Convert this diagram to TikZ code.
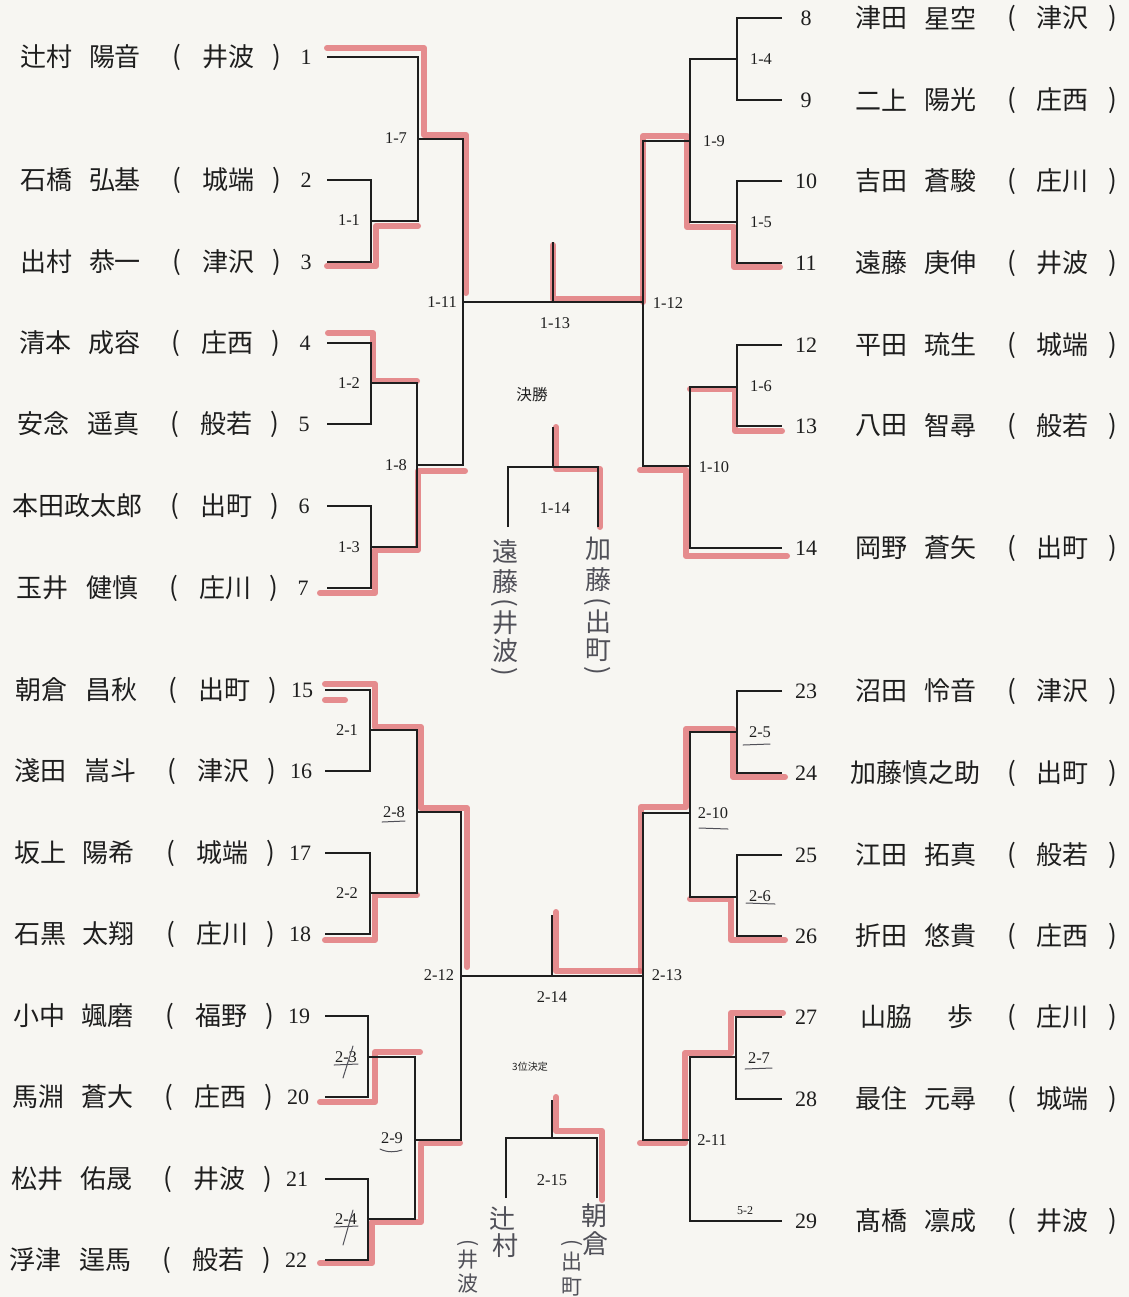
\documentclass[tikz,border=0pt]{standalone}
\usepackage{fontspec}
\setmainfont{Liberation Serif}
\newfontfamily\jp{Noto Sans CJK JP}
\definecolor{paper}{RGB}{247,246,242}
\definecolor{ink}{RGB}{30,30,30}
\definecolor{hlred}{RGB}{222,95,100}
\definecolor{pencil}{RGB}{80,80,88}
\tikzset{
  br/.style={line width=1pt, draw=ink},
  hl/.style={line width=3pt, draw=hlred, opacity=0.7, line join=round, line cap=round},
  nm/.style={font=\jp\fontsize{13}{13}\selectfont, inner sep=0pt, text=ink},
  num/.style={font=\fontsize{11}{11}\selectfont, inner sep=0pt, text=ink},
  lbl/.style={font=\fontsize{8.2}{8.2}\selectfont, inner sep=0pt, text=ink},
  hw/.style={font=\jp\fontsize{13}{13}\selectfont, inner sep=0pt, text=pencil},
  hws/.style={font=\jp\fontsize{10.5}{10.5}\selectfont, inner sep=0pt, text=pencil},
  vp/.style={rotate=-90, inner sep=0pt, text=pencil},
  pm/.style={line width=0.5pt, draw=pencil, line cap=round},
}
% left row: id, y, dx, surname, given, school
\newcommand\Lrow[6]{%
  \node[nm] (ls#1) at ({46+(#3)},#2) {#4};
  \node[nm] (lg#1) at ({115+(#3)},#2) {#5};
  \node[nm] (lo#1) at ({177+(#3)},#2) {(};
  \node[nm] (lc#1) at ({228+(#3)},#2) {#6};
  \node[nm] (lx#1) at ({277+(#3)},#2) {)};
  \node[num] (n#1) at ({306+(#3)},#2) {#1};
}
% right row: id, y, surname, given, school
\newcommand\Rrow[5]{%
  \node[num] (n#1) at (806,#2) {#1};
  \node[nm] (rs#1) at (881,#2) {#3};
  \node[nm] (rg#1) at (950,#2) {#4};
  \node[nm] (ro#1) at (1012,#2) {(};
  \node[nm] (rc#1) at (1062,#2) {#5};
  \node[nm] (rx#1) at (1113,#2) {)};
}
\begin{document}
\begin{tikzpicture}[x=0.5pt,y=-0.5pt]
\fill[paper] (0,0) rectangle (1129,1297);
\useasboundingbox (0,0) rectangle (1129,1297);
\clip (0,0) rectangle (1129,1297);

% ---------- names ----------
\Lrow{1}{57}{0}{辻村}{陽音}{井波}
\Lrow{2}{180}{0}{石橋}{弘基}{城端}
\Lrow{3}{262}{0}{出村}{恭一}{津沢}
\Lrow{4}{343}{-1}{清本}{成容}{庄西}
\Lrow{5}{424}{-2}{安念}{遥真}{般若}
\node[nm] (ls6) at (77,506) {本田政太郎};
\node[nm] (lo6) at (175,506) {(};
\node[nm] (lc6) at (226,506) {出町};
\node[nm] (lx6) at (275,506) {)};
\node[num] (n6) at (304,506) {6};
\Lrow{7}{588}{-3}{玉井}{健慎}{庄川}
\Lrow{15}{690}{-4}{朝倉}{昌秋}{出町}
\Lrow{16}{771}{-5}{淺田}{嵩斗}{津沢}
\Lrow{17}{853}{-6}{坂上}{陽希}{城端}
\Lrow{18}{934}{-6}{石黒}{太翔}{庄川}
\Lrow{19}{1016}{-7}{小中}{颯磨}{福野}
\Lrow{20}{1097}{-8}{馬淵}{蒼大}{庄西}
\Lrow{21}{1179}{-9}{松井}{佑晟}{井波}
\Lrow{22}{1260}{-10}{浮津}{逞馬}{般若}

\Rrow{8}{18}{津田}{星空}{津沢}
\Rrow{9}{100}{二上}{陽光}{庄西}
\Rrow{10}{181}{吉田}{蒼駿}{庄川}
\Rrow{11}{263}{遠藤}{庚伸}{井波}
\Rrow{12}{345}{平田}{琉生}{城端}
\Rrow{13}{426}{八田}{智尋}{般若}
\Rrow{14}{548}{岡野}{蒼矢}{出町}
\Rrow{23}{691}{沼田}{怜音}{津沢}
\node[num] (n24) at (806,773) {24};
\node[nm] (rs24) at (915,773) {加藤慎之助};
\node[nm] (ro24) at (1012,773) {(};
\node[nm] (rc24) at (1062,773) {出町};
\node[nm] (rx24) at (1113,773) {)};
\Rrow{25}{855}{江田}{拓真}{般若}
\Rrow{26}{936}{折田}{悠貴}{庄西}
\node[num] (n27) at (806,1017) {27};
\node[nm] (rs27) at (886,1017) {山脇};
\node[nm] (rg27) at (960,1017) {歩};
\node[nm] (ro27) at (1012,1017) {(};
\node[nm] (rc27) at (1062,1017) {庄川};
\node[nm] (rx27) at (1113,1017) {)};
\Rrow{28}{1099}{最住}{元尋}{城端}
\Rrow{29}{1221}{髙橋}{凛成}{井波}

% ---------- coordinates ----------
\coordinate (p1) at (327,57);   \coordinate (p2) at (327,180);
\coordinate (p3) at (327,262);  \coordinate (p4) at (327,343);
\coordinate (p5) at (327,424);  \coordinate (p6) at (327,506);
\coordinate (p7) at (327,588);
\coordinate (j11) at (371,221); \coordinate (j17) at (418,139);
\coordinate (j12) at (371,383); \coordinate (j13) at (371,547);
\coordinate (j18) at (417,465); \coordinate (j111) at (463,302);

\coordinate (p8) at (782,18);   \coordinate (p9) at (782,100);
\coordinate (p10) at (782,181); \coordinate (p11) at (782,263);
\coordinate (p12) at (782,345); \coordinate (p13) at (782,426);
\coordinate (p14) at (782,548);
\coordinate (j14) at (737,59);  \coordinate (j15) at (737,222);
\coordinate (j19) at (690,141); \coordinate (j16) at (737,387);
\coordinate (j110) at (690,466); \coordinate (j112) at (643,302);

\coordinate (s113) at (553,242);
\coordinate (f14t) at (553,427); \coordinate (f14) at (553,467);
\coordinate (fL) at (508,527);   \coordinate (fR) at (598,527);

\coordinate (p15) at (325,690);  \coordinate (p16) at (325,771);
\coordinate (p17) at (325,853);  \coordinate (p18) at (325,934);
\coordinate (p19) at (325,1016); \coordinate (p20) at (325,1097);
\coordinate (p21) at (325,1179); \coordinate (p22) at (325,1260);
\coordinate (j21) at (370,730);  \coordinate (j22) at (370,893);
\coordinate (j28) at (417,812);  \coordinate (j23) at (368,1057);
\coordinate (j24) at (368,1219); \coordinate (j29) at (415,1140);
\coordinate (j212) at (461,976);

\coordinate (p23) at (782,691);  \coordinate (p24) at (782,773);
\coordinate (p25) at (782,855);  \coordinate (p26) at (782,936);
\coordinate (p27) at (782,1017); \coordinate (p28) at (782,1099);
\coordinate (p29) at (782,1221);
\coordinate (j25) at (737,732);  \coordinate (j26) at (737,897);
\coordinate (j210) at (690,813); \coordinate (j27) at (736,1057);
\coordinate (j211) at (690,1140); \coordinate (j213) at (643,976);

\coordinate (s214) at (552,915);
\coordinate (t15t) at (552,1100); \coordinate (t15) at (552,1138);
\coordinate (tL) at (506,1198);   \coordinate (tR) at (597,1198);

% ---------- red highlighter ----------
\draw[hl] (327,48) -- (424,48) -- (424,135) -- (466,135) -- (466,293);
\draw[hl] (327,266) -- (376,266) -- (376,226) -- (418,226);
\draw[hl] (328,333) -- (373,333) -- (373,381) -- (417,381);
\draw[hl] (320,593) -- (375,593) -- (375,550) -- (418,550) -- (418,471) -- (465,471);
\draw[hl] (780,267) -- (734,267) -- (734,227) -- (687,227) -- (687,136) -- (643,136) -- (643,302);
\draw[hl] (553,245) -- (553,299) -- (641,299);
\draw[hl] (782,431) -- (735,431) -- (735,389) -- (690,389);
\draw[hl] (787,556) -- (686,556) -- (686,470) -- (640,470);
\draw[hl] (556,427) -- (556,469) -- (600,469) -- (600,527);
\draw[hl] (325,684) -- (375,684) -- (375,727) -- (421,727) -- (421,808) -- (467,808) -- (467,967);
\draw[hl] (325,700) -- (345,700);
\draw[hl] (325,940) -- (375,940) -- (375,895) -- (417,895);
\draw[hl] (320,1102) -- (375,1102) -- (375,1052) -- (420,1052);
\draw[hl] (320,1263) -- (372,1263) -- (372,1222) -- (421,1222) -- (421,1143) -- (460,1143);
\draw[hl] (556,912) -- (556,971) -- (640,971);
\draw[hl] (785,777) -- (733,777) -- (733,729) -- (686,729) -- (686,807) -- (641,807) -- (641,971);
\draw[hl] (785,940) -- (731,940) -- (731,899) -- (690,899);
\draw[hl] (783,1013) -- (731,1013) -- (731,1053) -- (685,1053) -- (685,1143) -- (640,1143);
\draw[hl] (556,1097) -- (556,1131) -- (602,1131) -- (602,1200);

% ---------- bracket lines ----------
\draw[br] (p2) -| (j11) |- (p3);
\draw[br] (p1) -| (j17) |- (j11);
\draw[br] (p4) -| (j12) |- (p5);
\draw[br] (p6) -| (j13) |- (p7);
\draw[br] (j12) -| (j18) |- (j13);
\draw[br] (j17) -| (j111) |- (j18);
\draw[br] (j111) -- (j112);
\draw[br] (p8) -| (j14) |- (p9);
\draw[br] (p10) -| (j15) |- (p11);
\draw[br] (j14) -| (j19) |- (j15);
\draw[br] (p12) -| (j16) |- (p13);
\draw[br] (j16) -| (j110) |- (p14);
\draw[br] (j19) -| (j112) |- (j110);
\draw[br] (s113) -- (s113 |- j111);
\draw[br] (f14t) -- (f14);
\draw[br] (fL) |- (f14) -| (fR);

\draw[br] (p15) -| (j21) |- (p16);
\draw[br] (p17) -| (j22) |- (p18);
\draw[br] (j21) -| (j28) |- (j22);
\draw[br] (p19) -| (j23) |- (p20);
\draw[br] (p21) -| (j24) |- (p22);
\draw[br] (j23) -| (j29) |- (j24);
\draw[br] (j28) -| (j212) |- (j29);
\draw[br] (j212) -- (j213);
\draw[br] (p23) -| (j25) |- (p24);
\draw[br] (p25) -| (j26) |- (p26);
\draw[br] (j25) -| (j210) |- (j26);
\draw[br] (p27) -| (j27) |- (p28);
\draw[br] (j27) -| (j211) |- (p29);
\draw[br] (j210) -| (j213) |- (j211);
\draw[br] (s214) -- (s214 |- j212);
\draw[br] (t15t) -- (t15);
\draw[br] (tL) |- (t15) -| (tR);

% ---------- match labels ----------
\node[lbl] (l17) at (396,138) {1-7};
\node[lbl] (l11) at (349,220) {1-1};
\node[lbl] (l111) at (442,302) {1-11};
\node[lbl] (l12) at (349,383) {1-2};
\node[lbl] (l18) at (396,465) {1-8};
\node[lbl] (l13) at (349,547) {1-3};
\node[lbl] (l14) at (761,59) {1-4};
\node[lbl] (l19) at (714,141) {1-9};
\node[lbl] (l15) at (761,222) {1-5};
\node[lbl] (l112) at (668,303) {1-12};
\node[lbl] (l16) at (761,386) {1-6};
\node[lbl] (l110) at (714,467) {1-10};
\node[lbl] (l113) at (555,323) {1-13};
\node[font=\jp\fontsize{7.8}{8}\selectfont, inner sep=0pt, text=ink] (kessho) at (532,395) {決勝};
\node[lbl] (l114) at (555,508) {1-14};

\node[lbl] (l21) at (347,730) {2-1};
\node[lbl] (l28) at (394,812) {2-8};
\node[lbl] (l22) at (347,893) {2-2};
\node[lbl] (l212) at (439,975) {2-12};
\node[lbl] (l23) at (346,1057) {2-3};
\node[lbl] (l29) at (392,1138) {2-9};
\node[lbl] (l24) at (346,1219) {2-4};
\node[lbl] (l25) at (760,732) {2-5};
\node[lbl] (l210) at (713,813) {2-10};
\node[lbl] (l26) at (760,896) {2-6};
\node[lbl] (l213) at (667,975) {2-13};
\node[lbl] (l27) at (759,1058) {2-7};
\node[lbl] (l211) at (712,1140) {2-11};
\node[font=\fontsize{6}{6}\selectfont, inner sep=0pt, text=ink] (l52) at (745,1211) {5-2};
\node[lbl] (l214) at (552,997) {2-14};
\node[font=\jp\fontsize{5}{5}\selectfont, inner sep=0pt, text=ink] (san) at (530,1067) {3位決定};
\node[lbl] (l215) at (552,1180) {2-15};

% ---------- pencil marks ----------
\draw[pm] (382,822) -- (405,821);
\draw[pm] (380,1149) .. controls (388,1153) and (396,1152) .. (402,1150);
\draw[pm] (699,828) -- (728,829);
\draw[pm] (743,745) -- (770,744);
\draw[pm] (746,903) -- (775,904);
\draw[pm] (745,1069) -- (772,1068);
\draw[pm] (334,1065) -- (358,1064);
\draw[pm] (353,1046) -- (343,1078);
\draw[pm] (334,1227) -- (358,1226);
\draw[pm] (353,1210) -- (343,1245);

% ---------- handwritten results ----------
\node[hw] (h1a) at (505,552) {遠};
\node[hw] (h1b) at (505,582) {藤};
\node[vp, font=\jp\fontsize{13}{13}\selectfont] (h1c) at (505,603) {(};
\node[hw] (h1d) at (505,623) {井};
\node[hw] (h1e) at (505,651) {波};
\node[vp, font=\jp\fontsize{13}{13}\selectfont] (h1f) at (505,672) {)};
\node[hw] (h2a) at (598,549) {加};
\node[hw] (h2b) at (598,580) {藤};
\node[vp, font=\jp\fontsize{13}{13}\selectfont] (h2c) at (598,602) {(};
\node[hw] (h2d) at (598,622) {出};
\node[hw] (h2e) at (598,650) {町};
\node[vp, font=\jp\fontsize{13}{13}\selectfont] (h2f) at (598,671) {)};

\node[hw] (h3a) at (502,1218) {辻};
\node[hw] (h3b) at (505,1246) {村};
\node[vp, font=\jp\fontsize{10.5}{10.5}\selectfont] (h3c) at (468,1243) {(};
\node[hws] (h3d) at (468,1260) {井};
\node[hws] (h3e) at (468,1284) {波};
\node[hw] (h4a) at (594,1216) {朝};
\node[hw] (h4b) at (595,1244) {倉};
\node[vp, font=\jp\fontsize{10.5}{10.5}\selectfont] (h4c) at (572,1243) {(};
\node[hws] (h4d) at (572,1262) {出};
\node[hws] (h4e) at (572,1287) {町};
\end{tikzpicture}
\end{document}
